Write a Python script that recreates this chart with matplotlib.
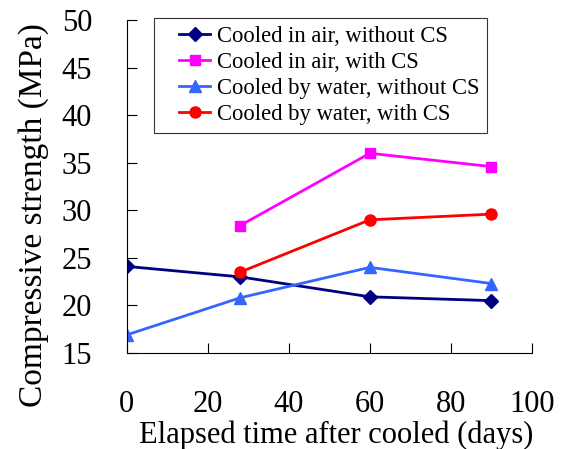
import matplotlib.pyplot as plt
from matplotlib.legend_handler import HandlerLine2D

plt.rcParams['font.family'] = ['Liberation Serif', 'DejaVu Serif']

# data
days_air = [0, 28, 60, 90]
air_no_cs = [24.1, 23.0, 20.9, 20.5]
days_air_cs = [28, 60, 90]
air_cs = [28.4, 36.0, 34.6]
days_water = [0, 28, 60, 90]
water_no_cs = [16.9, 20.8, 24.0, 22.3]
days_water_cs = [28, 60, 90]
water_cs = [23.5, 29.0, 29.6]

fig = plt.figure(figsize=(5.61, 4.49), dpi=100)
ax = fig.add_axes([0.226, 0.214, 0.722, 0.741])

l1, = ax.plot(days_air, air_no_cs, color='#000080', marker='D', ms=7, lw=2,
              label='Cooled in air, without CS')
l2, = ax.plot(days_air_cs, air_cs, color='#FF00FF', marker='s', ms=7.5, lw=2,
              label='Cooled in air, with CS')
l3, = ax.plot(days_water, water_no_cs, color='#3366FF', marker='^', ms=9, lw=2,
              label='Cooled by water, without CS')
l4, = ax.plot(days_water_cs, water_cs, color='#FF0000', marker='o', ms=8, lw=2,
              label='Cooled by water, with CS')

ax.set_xlim(0, 100)
ax.set_ylim(15, 50)
ax.set_xticks(range(0, 101, 20))
ax.set_yticks(range(15, 51, 5))
ax.spines['top'].set_visible(False)
ax.spines['right'].set_visible(False)
ax.tick_params(axis='x', direction='in', length=7, pad=27, labelsize=22)
ax.tick_params(axis='y', direction='in', length=7, pad=25, labelsize=22)
ax.set_xlabel('Elapsed time after cooled (days)', fontsize=22, labelpad=1)
ax.set_ylabel('Compressive strength (MPa)', fontsize=24, labelpad=9)
ax.xaxis.label.set_x(0.516)
ax.yaxis.label.set_y(0.414)

# extra room left of the legend handles
hmap = {l: HandlerLine2D(xpad=0.75) for l in (l1, l2, l3, l4)}
leg = ax.legend(loc='upper left', bbox_to_anchor=(0.068, 1.006), fontsize=16.3,
                fancybox=False, edgecolor='black', handlelength=2.1,
                borderpad=0.35, labelspacing=0.22, handletextpad=0.3,
                borderaxespad=0, handler_map=hmap)
leg.get_frame().set_linewidth(0.8)

fig.savefig('out.png', dpi=100)
